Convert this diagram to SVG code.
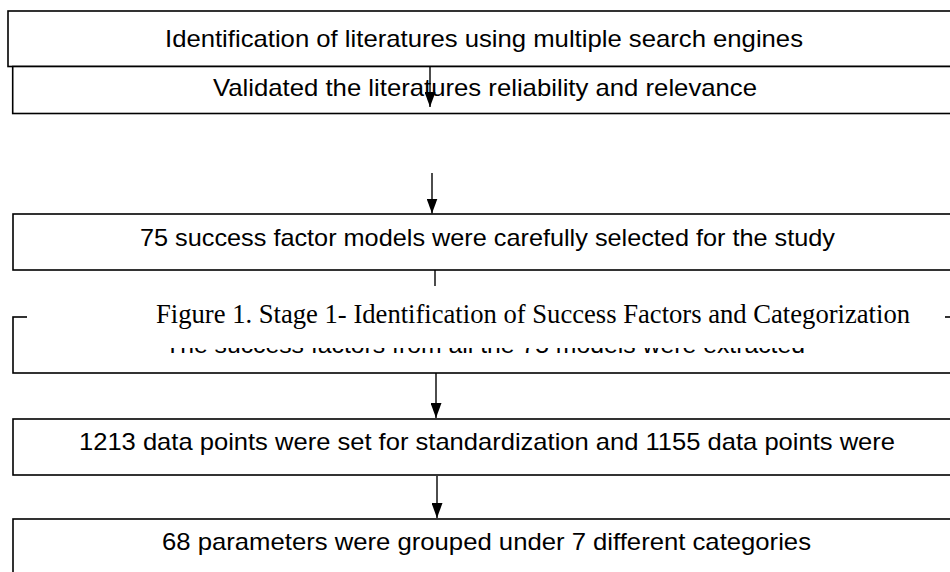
<svg xmlns="http://www.w3.org/2000/svg" width="950" height="572" viewBox="0 0 950 572">
<defs>
<style>
.box{fill:#fff;stroke:#000;stroke-width:1.6}
.t{font-family:"Liberation Sans",Arial,sans-serif;font-size:24px;fill:#000}
.cap{font-family:"Liberation Serif","Times New Roman",serif;font-size:27px;fill:#000}
.ln{stroke:#000;stroke-width:1.4;fill:none}
</style>
<marker id="ah" markerWidth="15" markerHeight="11" refX="15" refY="5.5" orient="auto" markerUnits="userSpaceOnUse" viewBox="0 0 15 11">
<path d="M0,0 L15,5.5 L0,11 Z" fill="#000"/>
</marker>
</defs>
<rect width="950" height="572" fill="#fff"/>
<g id="n1"><rect class="box" x="8" y="11" width="1000" height="55.5"/>
<text class="t" x="165" y="47" textLength="638" lengthAdjust="spacingAndGlyphs">Identification of literatures using multiple search engines</text></g>
<g id="n2"><rect class="box" x="12.7" y="66.5" width="1000" height="47"/>
<text class="t" x="213" y="96" textLength="544" lengthAdjust="spacingAndGlyphs">Validated the literatures reliability and relevance</text></g>
<g id="n3"><rect class="box" x="13" y="214" width="1000" height="56"/>
<text class="t" x="140" y="246" textLength="695" lengthAdjust="spacingAndGlyphs">75 success factor models were carefully selected for the study</text></g>
<g id="n4"><rect class="box" x="13" y="317" width="1000" height="56"/>
<text class="t" x="165" y="352.5" textLength="640" lengthAdjust="spacingAndGlyphs">The success factors from all the 75 models were extracted</text></g>
<g id="n5"><rect class="box" x="13" y="419" width="1000" height="56"/>
<text class="t" x="79" y="450" textLength="816" lengthAdjust="spacingAndGlyphs">1213 data points were set for standardization and 1155 data points were</text></g>
<g id="n6"><rect class="box" x="13" y="519" width="1000" height="80"/>
<text class="t" x="162" y="550" textLength="649" lengthAdjust="spacingAndGlyphs">68 parameters were grouped under 7 different categories</text></g>
<g id="connectors">
<line class="ln" x1="430" y1="66.5" x2="430" y2="107" marker-end="url(#ah)"/>
<line class="ln" x1="432" y1="173" x2="432" y2="213.5" marker-end="url(#ah)"/>
<line class="ln" x1="435" y1="270" x2="435" y2="317"/>
<line class="ln" x1="436" y1="373" x2="436" y2="418" marker-end="url(#ah)"/>
<line class="ln" x1="437" y1="476" x2="437" y2="518" marker-end="url(#ah)"/>
</g>
<g id="caption">
<rect x="27" y="286" width="918" height="62" fill="#fff"/>
<text class="cap" x="156" y="323" textLength="754" lengthAdjust="spacingAndGlyphs">Figure 1. Stage 1- Identification of Success Factors and Categorization</text>
</g>
</svg>
